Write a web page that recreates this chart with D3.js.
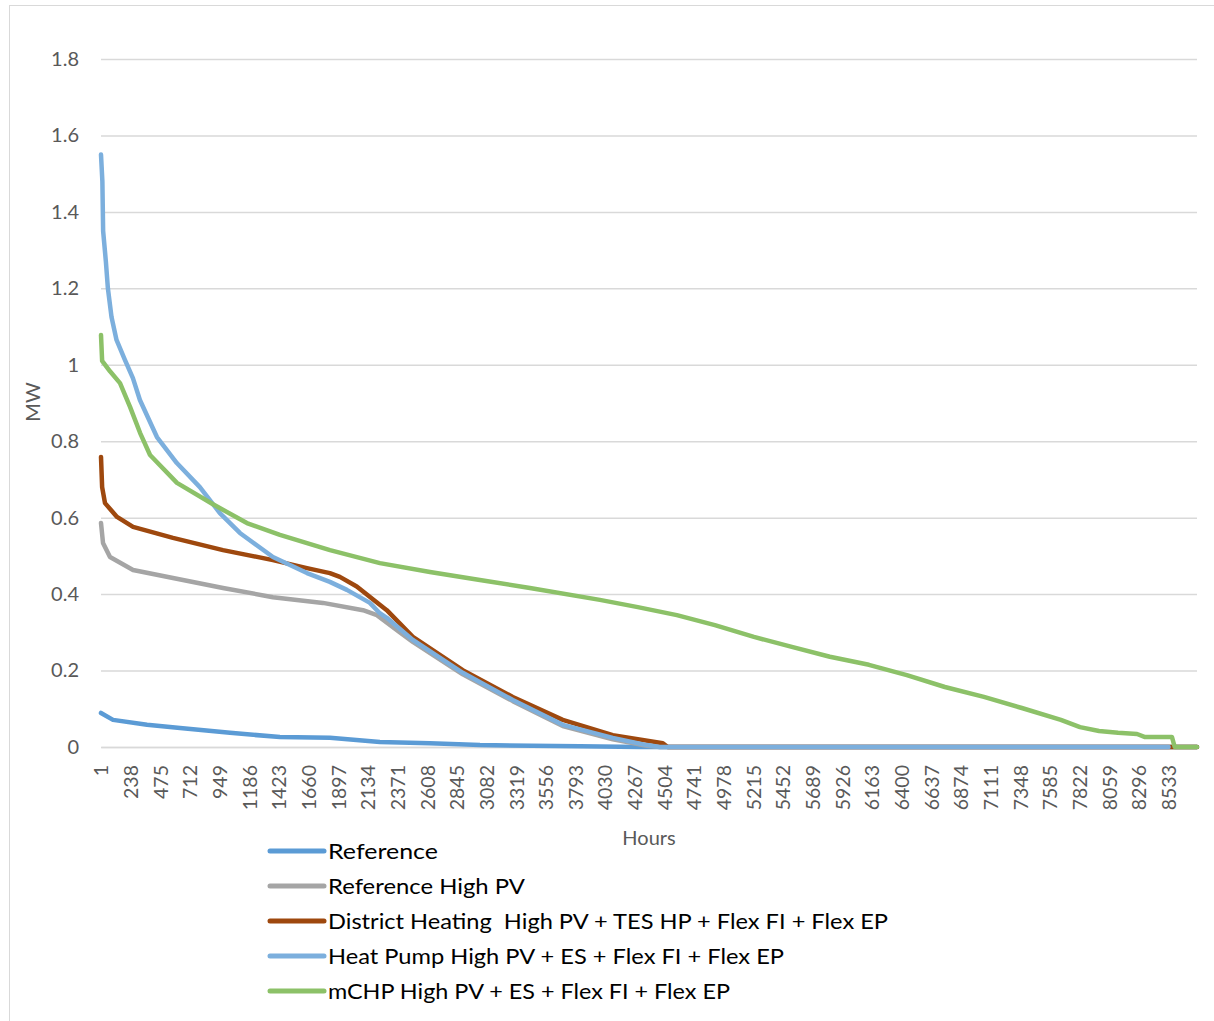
<!DOCTYPE html>
<html>
<head>
<meta charset="utf-8">
<script src="https://cdn.jsdelivr.net/npm/d3@7"></script>
<style>
	body { margin: 0; background: #fff; }
	text { font-family: Lato, "Open Sans", sans-serif; }
</style>
</head>
<body>
<div id="chartDiv"></div>
<script>
; (function () {

	var width = 1214;
	var height = 1021;
	var margin = { top: 59, right: 17, bottom: 274, left: 101 };

	// hour, MW
	var referenceData = [[1, 0.089], [97, 0.071], [369, 0.058], [633, 0.050], [1032, 0.037], [1431, 0.026], [1831, 0.024], [2230, 0.013], [2630, 0.010], [3030, 0.005], [3828, 0.002], [4310, 0], [8760, 0]];
	var referenceHighPvData = [[1, 0.586], [17, 0.534], [73, 0.497], [257, 0.463], [576, 0.442], [976, 0.416], [1375, 0.392], [1775, 0.377], [2095, 0.358], [2206, 0.345], [2390, 0.300], [2493, 0.275], [2892, 0.190], [3292, 0.120], [3691, 0.055], [4091, 0.020], [4363, 0.003], [4467, 0], [8760, 0]];
	var districtHeatingData = [[1, 0.759], [10, 0.680], [33, 0.638], [129, 0.602], [257, 0.576], [576, 0.547], [976, 0.515], [1375, 0.489], [1647, 0.468], [1830, 0.455], [1910, 0.445], [2045, 0.420], [2229, 0.372], [2285, 0.358], [2493, 0.288], [2892, 0.201], [3292, 0.131], [3691, 0.071], [4091, 0.031], [4491, 0.010], [4530, 0], [8760, 0]];
	var heatPumpData = [[1, 1.55], [12, 1.48], [18, 1.35], [40, 1.27], [56, 1.20], [85, 1.125], [125, 1.065], [192, 1.013], [256, 0.965], [312, 0.908], [448, 0.811], [607, 0.743], [791, 0.680], [951, 0.612], [1111, 0.560], [1375, 0.497], [1647, 0.455], [1830, 0.432], [1966, 0.411], [2150, 0.377], [2229, 0.350], [2285, 0.338], [2493, 0.280], [2892, 0.194], [3292, 0.123], [3691, 0.058], [4091, 0.024], [4363, 0.005], [4467, 0], [8533, 0]];
	var mchpData = [[1, 1.078], [10, 1.010], [73, 0.983], [153, 0.952], [233, 0.890], [313, 0.822], [393, 0.764], [608, 0.691], [896, 0.635], [1167, 0.586], [1431, 0.555], [1831, 0.515], [2230, 0.481], [2630, 0.458], [3029, 0.437], [3429, 0.416], [3988, 0.385], [4291, 0.366], [4603, 0.345], [4907, 0.319], [5219, 0.288], [5522, 0.262], [5826, 0.236], [6138, 0.215], [6441, 0.188], [6745, 0.157], [7057, 0.131], [7360, 0.102], [7672, 0.071], [7825, 0.052], [7977, 0.042], [8129, 0.037], [8281, 0.034], [8345, 0.026], [8560, 0.026], [8582, 0], [8760, 0]];

	var seriesNames = [
		"Reference",
		"Reference High PV",
		"District Heating  High PV + TES HP + Flex FI + Flex EP",
		"Heat Pump High PV + ES + Flex FI + Flex EP",
		"mCHP High PV + ES + Flex FI + Flex EP"
	];
	var seriesColors = ["#5b9bd5", "#a5a5a5", "#9e480e", "#7cafdd", "#8cc168"];
	var seriesData = [referenceData, referenceHighPvData, districtHeatingData, heatPumpData, mchpData];
	// rendered widths of the legend entries in the picture (Calibri is narrower than Lato)
	var legendTextWidths = [110, 197, 560, 456, 402];

	var hourTicks = [1, 238, 475, 712, 949, 1186, 1423, 1660, 1897, 2134, 2371, 2608, 2845, 3082, 3319, 3556, 3793, 4030, 4267, 4504, 4741, 4978, 5215, 5452, 5689, 5926, 6163, 6400, 6637, 6874, 7111, 7348, 7585, 7822, 8059, 8296, 8533];
	var mwTicks = [0, 0.2, 0.4, 0.6, 0.8, 1, 1.2, 1.4, 1.6, 1.8];

	var xAxisLabelHeader = "Hours";
	var yAxisLabelHeader = "MW";

	var chart;
	var chartWidth;
	var chartHeight;

	init();

	function init() {
		chartWidth = width - margin.left - margin.right;
		chartHeight = height - margin.top - margin.bottom;

		initializeChart();
		createAxes();
		drawLines();
		drawLegend();
	}

	function initializeChart() {
		chart = d3.select("#chartDiv").append("svg")
			.attr("width", width)
			.attr("height", height);

		// chart area border (only left/top are visible in the picture)
		chart.append("rect")
			.attr("x", 9.5)
			.attr("y", 5.5)
			.attr("width", 1220)
			.attr("height", 1030)
			.attr("fill", "none")
			.attr("stroke", "#d9d9d9");

		chart.plotArea = chart.append("g")
			.attr("transform", "translate(" + margin.left + "," + margin.top + ")");
	}

	function createAxes() {

		chart.xScale = d3.scaleLinear()
			.domain([1, 8760])
			.range([0, chartWidth]);

		chart.yScale = d3.scaleLinear()
			.domain([0, 1.8])
			.range([chartHeight, 0]);

		// gridlines
		chart.plotArea.append("g")
			.attr("class", "grid")
			.call(d3.axisLeft(chart.yScale)
				.tickValues(mwTicks)
				.tickSize(-chartWidth)
				.tickFormat(""))
			.call(function (g) { g.select(".domain").remove(); })
			.selectAll("line")
			.attr("stroke", "#d9d9d9")
			.attr("stroke-width", 1.5);

		chart.yAxis = d3.axisLeft(chart.yScale)
			.tickValues(mwTicks)
			.tickSize(0)
			.tickPadding(22)
			.tickFormat(d3.format("~g"));

		chart.plotArea.append("g")
			.attr("class", "y axis")
			.call(chart.yAxis)
			.call(function (g) { g.select(".domain").remove(); })
			.selectAll("text")
			.style("font-size", "20px")
			.attr("fill", "#595959");

		chart.xAxis = d3.axisBottom(chart.xScale)
			.tickValues(hourTicks)
			.tickSize(0)
			.tickFormat(d3.format("d"));

		var xg = chart.plotArea.append("g")
			.attr("class", "x axis")
			.attr("transform", "translate(0," + chartHeight + ")")
			.call(chart.xAxis);

		xg.select(".domain").attr("stroke", "#d9d9d9").attr("stroke-width", 1.5);

		xg.selectAll("text")
			.style("font-size", "19.5px")
			.attr("fill", "#595959")
			.attr("text-anchor", "end")
			.attr("dy", "0.35em")
			.attr("transform", "translate(0,18) rotate(-90)")
			.attr("x", 0)
			.attr("y", 0);

		chart.append("text")
			.attr("class", "x axis-label")
			.style("font-size", "20px")
			.attr("fill", "#595959")
			.attr("text-anchor", "middle")
			.attr("transform", "translate(649, 845)")
			.text(xAxisLabelHeader);

		chart.append("text")
			.attr("class", "y axis-label")
			.style("font-size", "20px")
			.attr("fill", "#595959")
			.attr("text-anchor", "middle")
			.attr("transform", "translate(40, 402) rotate(-90)")
			.text(yAxisLabelHeader);
	}

	function drawLines() {
		var line = d3.line()
			.x(function (d) { return chart.xScale(d[0]); })
			.y(function (d) { return chart.yScale(d[1]); });

		chart.plotArea.selectAll(".series")
			.data(seriesData)
			.enter()
			.append("path")
			.attr("class", "series")
			.attr("d", line)
			.attr("fill", "none")
			.attr("stroke", function (d, i) { return seriesColors[i]; })
			.attr("stroke-width", 4.5)
			.attr("stroke-linejoin", "round")
			.attr("stroke-linecap", "round");
	}

	function drawLegend() {
		var legend = chart.append("g")
			.attr("transform", "translate(270, 851)");

		var rows = legend.selectAll(".legend-row")
			.data(seriesNames)
			.enter()
			.append("g")
			.attr("class", "legend-row")
			.attr("transform", function (d, i) { return "translate(0," + (i * 35) + ")"; });

		rows.append("line")
			.attr("x1", 0)
			.attr("x2", 54)
			.attr("stroke", function (d, i) { return seriesColors[i]; })
			.attr("stroke-width", 5)
			.attr("stroke-linecap", "round");

		rows.append("text")
			.attr("x", 58)
			.attr("dy", "0.35em")
			.style("font-size", "22px")
			.style("white-space", "pre")
			.attr("xml:space", "preserve")
			.attr("textLength", function (d, i) { return legendTextWidths[i]; })
			.attr("lengthAdjust", "spacingAndGlyphs")
			.attr("fill", "#000")
			.text(function (d) { return d; });
	}

})();
</script>
</body>
</html>
